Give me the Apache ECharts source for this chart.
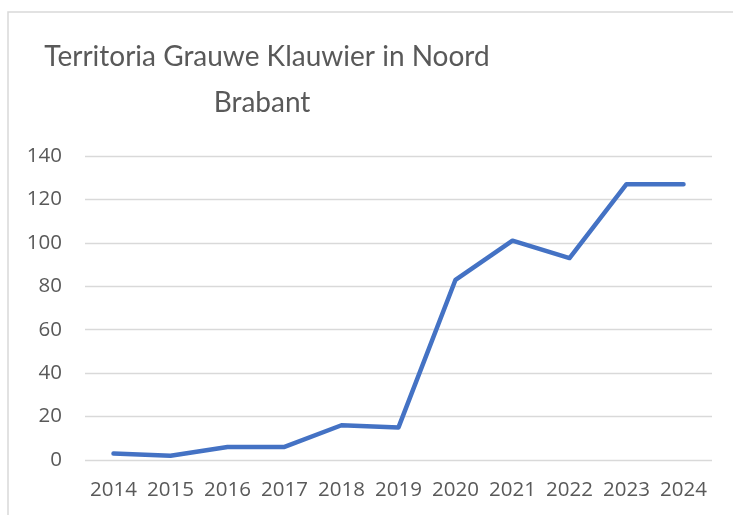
<!DOCTYPE html>
<html>
<head>
<meta charset="utf-8">
<script src="https://cdn.jsdelivr.net/npm/echarts@6/dist/echarts.min.js"></script>
<style>
html,body{margin:0;padding:0;background:#fff;}
#chart{width:733px;height:515px;}
</style>
</head>
<body>
<div id="chart"></div>
<script>
var titleLines = ['Territoria Grauwe Klauwier in Noord', 'Brabant'];
var years = ['2014','2015','2016','2017','2018','2019','2020','2021','2022','2023','2024'];
var territories = [3, 2, 6, 6, 16, 15, 83, 101, 93, 127, 127];
var yTicks = { min: 0, max: 140, interval: 20 };

var titleFont = 'normal 28px Lato, "Open Sans", sans-serif';
var chart = echarts.init(document.getElementById('chart'), null, {renderer: 'canvas'});
chart.setOption({
  backgroundColor: '#ffffff',
  animation: false,
  graphic: [{
    type: 'rect',
    shape: { x: 8, y: 12, width: 760, height: 540 },
    style: { fill: 'none', stroke: '#d9d9d9', lineWidth: 1.5 },
    silent: true, z: -1
  }, {
    type: 'text', x: 267, y: 71, silent: true,
    style: { text: titleLines[0], font: titleFont, fill: '#595959', textAlign: 'center', textVerticalAlign: 'bottom' }
  }, {
    type: 'text', x: 262, y: 117, silent: true,
    style: { text: titleLines[1], font: titleFont, fill: '#595959', textAlign: 'center', textVerticalAlign: 'bottom' }
  }],
  grid: { left: 85, right: 21, top: 156, bottom: 55, containLabel: false },
  xAxis: {
    type: 'category',
    data: years,
    boundaryGap: true,
    axisLine: { show: false },
    axisTick: { show: false },
    axisLabel: { interval: 0, hideOverlap: false, color: '#595959', fontFamily: 'Open Sans', fontSize: 20.5, margin: 20 }
  },
  yAxis: {
    type: 'value',
    min: yTicks.min, max: yTicks.max, interval: yTicks.interval,
    axisLine: { show: false },
    axisTick: { show: false },
    axisLabel: { color: '#595959', fontFamily: 'Open Sans', fontSize: 20.5, margin: 23 },
    splitLine: { lineStyle: { color: '#d9d9d9', width: 1.3 } }
  },
  series: [{
    type: 'line',
    data: territories,
    symbol: 'none',
    lineStyle: { color: '#4472C4', width: 4.5, cap: 'round', join: 'round' },
    itemStyle: { color: '#4472C4' }
  }]
});
</script>
</body>
</html>
